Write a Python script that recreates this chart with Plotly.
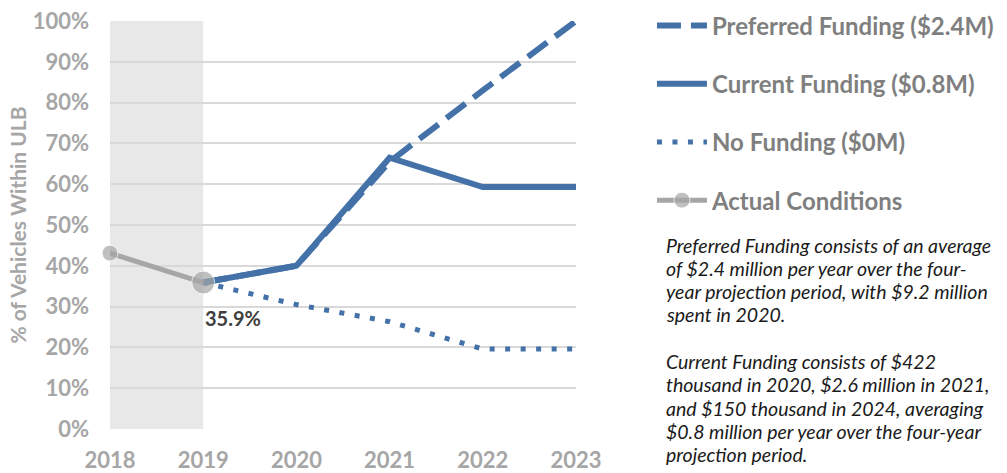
import plotly.graph_objects as go

years = [2018, 2019, 2020, 2021, 2022, 2023]
actual_years = [2018, 2019]
actual = [0.431, 0.359]
proj_years = [2019, 2020, 2021, 2022, 2023]
preferred = [0.359, 0.40, 0.655, 0.83, 1.00]
current = [0.359, 0.40, 0.665, 0.593, 0.593]
nofund = [0.359, 0.305, 0.263, 0.196, 0.196]
ytick_vals = [i / 10 for i in range(11)]
ytick_text = [f"{i*10}%" for i in range(11)]

note_lines = [
    "Preferred Funding consists of an average",
    "of $2.4 million per year over the four-",
    "year projection period, with $9.2 million",
    "spent in 2020.",
    "",
    "Current Funding consists of $422",
    "thousand in 2020, $2.6 million in 2021,",
    "and $150 thousand in 2024, averaging",
    "$0.8 million per year over the four-year",
    "projection period.",
]

BLUE = "#4472a8"
GRAY = "#a6a6a6"
FONT = "Lato"

fig = go.Figure()
fig.add_trace(go.Scatter(x=proj_years, y=preferred, mode="lines", name="Preferred Funding ($2.4M)",
                         line=dict(color=BLUE, width=6, dash="24px,10px"), legendrank=1,
                         legendgroup="a", cliponaxis=False))
fig.add_trace(go.Scatter(x=proj_years, y=current, mode="lines", name="Current Funding ($0.8M)",
                         line=dict(color=BLUE, width=6), legendrank=2, legendgroup="b", cliponaxis=False))
fig.add_trace(go.Scatter(x=proj_years, y=nofund, mode="lines", name="No Funding ($0M)",
                         line=dict(color=BLUE, width=5, dash="5px,10.5px"), legendrank=3,
                         legendgroup="c", cliponaxis=False))
fig.add_trace(go.Scatter(x=actual_years, y=actual, mode="lines+markers", name="Actual Conditions",
                         line=dict(color=GRAY, width=5), marker=dict(color=GRAY, size=[16, 23]),
                         legendrank=4, legendgroup="d", cliponaxis=False))

fig.add_shape(type="rect", xref="x", yref="y", x0=2018, x1=2019, y0=0, y1=1,
              fillcolor="#e8e8e8", line=dict(width=0), layer="below")

fig.add_annotation(x=2019, y=actual[1], xref="x", yref="y", text=f"{actual[1]*100:.1f}%",
                   showarrow=False, xanchor="left", yanchor="top", xshift=0, yshift=-21,
                   font=dict(family=FONT, size=20, color="#404040", weight="bold"))

line_h = 23.3
for i, ln in enumerate(note_lines):
    if not ln:
        continue
    ypx = 245 + i * line_h
    fig.add_annotation(x=(664 - 110) / 466, y=(429 - ypx) / 408, xref="paper", yref="paper",
                       text=ln, showarrow=False, xanchor="left", yanchor="middle", align="left",
                       font=dict(family=FONT, size=19.5, color="#1a1a1a", style="italic"))

fig.update_layout(
    width=1007, height=473,
    margin=dict(l=110, r=431, t=21, b=44, autoexpand=False),
    paper_bgcolor="white", plot_bgcolor="white",
    showlegend=True,
    legend=dict(x=1.163, y=1.043, xanchor="left", yanchor="top",
                font=dict(family=FONT, size=24, color="#7f7f7f", weight="bold"),
                tracegroupgap=24, itemwidth=50, bgcolor="rgba(0,0,0,0)"),
    xaxis=dict(range=[2018, 2023], tickvals=years, ticktext=[str(y) for y in years],
               showgrid=False, zeroline=False, showline=False, ticklabelstandoff=16,
               tickfont=dict(family=FONT, size=22, color=GRAY, weight="bold"), ticks="", ticklen=0),
    yaxis=dict(range=[0, 1], tickvals=ytick_vals, ticktext=ytick_text,
               showgrid=True, gridcolor="#d9d9d9", gridwidth=1.5, zeroline=False, showline=False,
               ticklabelstandoff=20,
               tickfont=dict(family=FONT, size=22, color=GRAY, weight="bold"),
               title=dict(text="% of Vehicles Within ULB", standoff=0,
                          font=dict(family=FONT, size=21, color=GRAY, weight="bold"))),
)
fig.write_html("out.html")
